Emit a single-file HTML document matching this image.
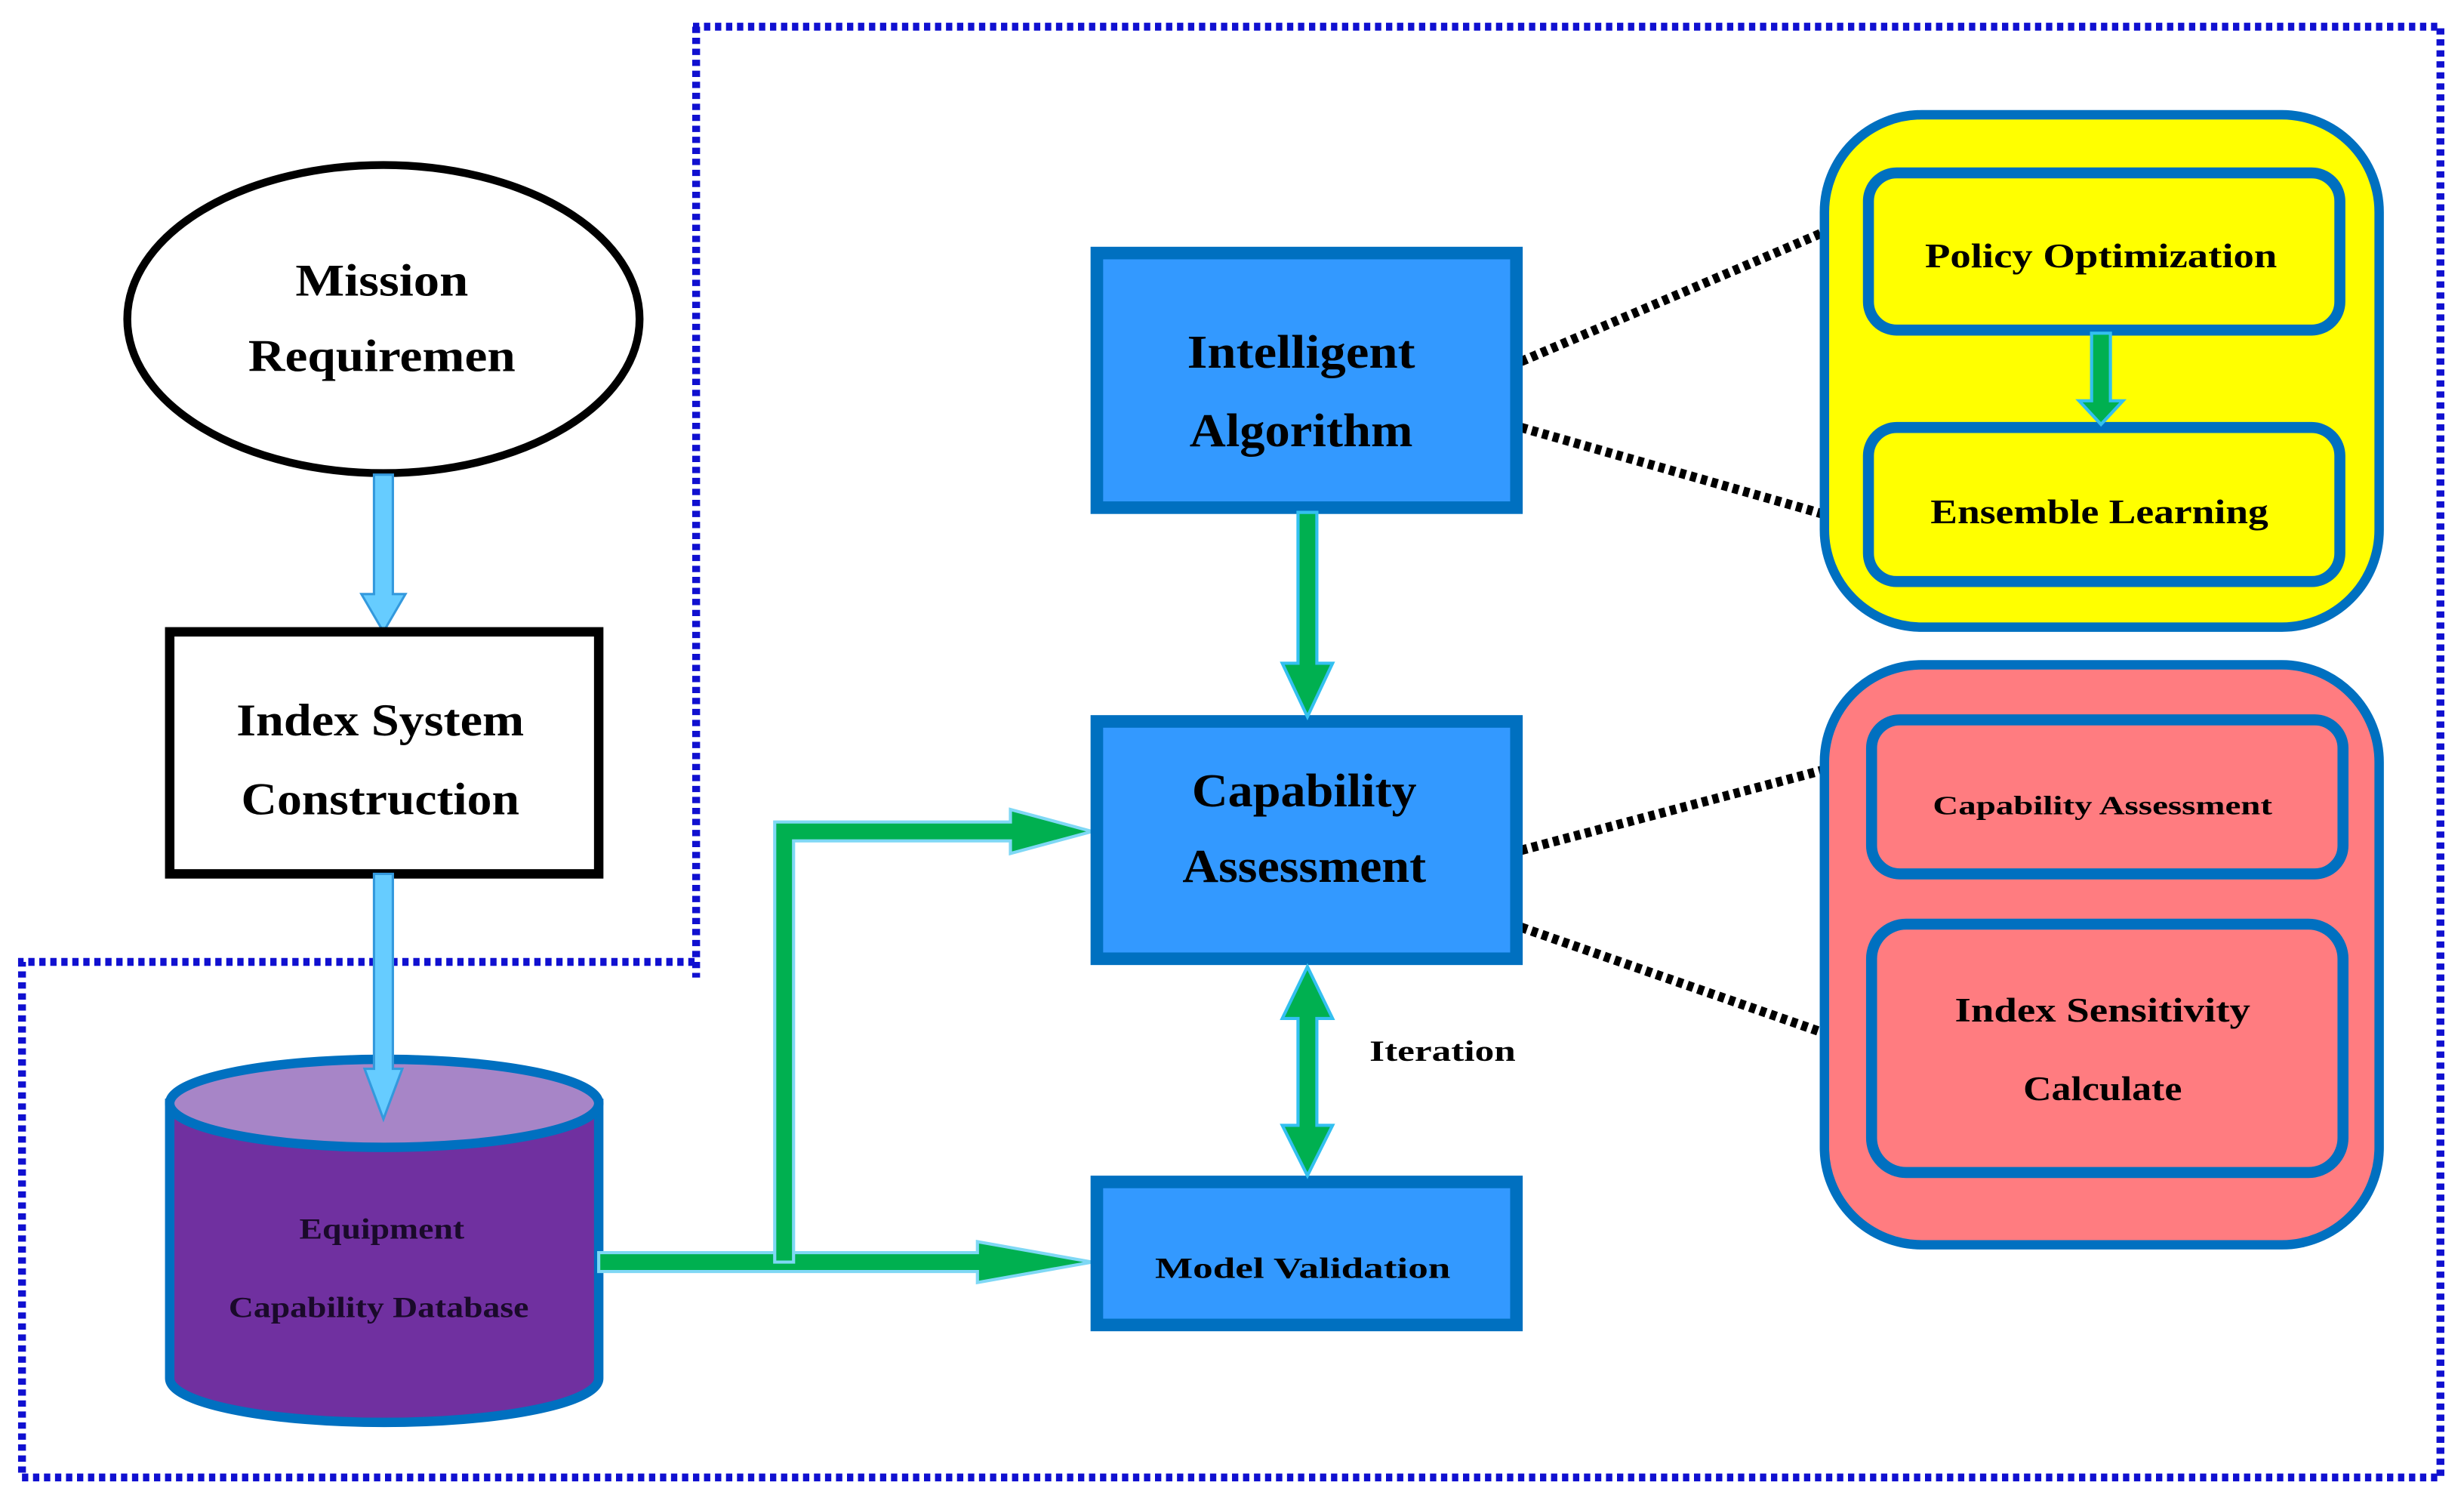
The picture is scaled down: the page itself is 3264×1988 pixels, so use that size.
<!DOCTYPE html>
<html><head><meta charset="utf-8"><style>
html,body{margin:0;padding:0;background:#fff;}
svg{display:block;}
text{font-family:"Liberation Serif",serif;fill:#000;text-anchor:middle;font-weight:bold;}
</style></head><body>
<svg width="3264" height="1988" viewBox="0 0 1568 955" preserveAspectRatio="none" xmlns="http://www.w3.org/2000/svg">
<g fill="none" stroke="#1010d0" stroke-width="5" stroke-dasharray="4 3">
<polyline points="441,17 1553,17 1553,940 14,940 14,612 443,612"/>
<line x1="443" y1="17" x2="443" y2="622"/>
</g>
<g stroke="#000" stroke-width="6" stroke-dasharray="4 3">
<line x1="968" y1="230" x2="1160" y2="148"/>
<line x1="968" y1="272" x2="1160" y2="327"/>
<line x1="968" y1="541" x2="1160" y2="490"/>
<line x1="968" y1="590" x2="1160" y2="657"/>
</g>
<ellipse cx="244" cy="203" rx="163" ry="98" fill="#fff" stroke="#000" stroke-width="5"/>
<text x="243" y="188" font-size="29" textLength="110" lengthAdjust="spacingAndGlyphs">Mission</text>
<text x="243" y="236" font-size="29" textLength="170" lengthAdjust="spacingAndGlyphs">Requiremen</text>
<g fill="#66ccff" stroke="#3399dd" stroke-width="1.5">
<polygon points="238,302 250,302 250,378 258,378 244,402 230,378 238,378"/>
</g>
<rect x="108" y="402" width="273" height="154" fill="#fff" stroke="#000" stroke-width="6"/>
<text x="242" y="468" font-size="29" textLength="183" lengthAdjust="spacingAndGlyphs">Index System</text>
<text x="242" y="518" font-size="29" textLength="177" lengthAdjust="spacingAndGlyphs">Construction</text>
<path d="M108,702 L108,877 A136.5,28 0 0 0 381,877 L381,702 Z" fill="#7030a0" stroke="#0070c0" stroke-width="6"/>
<ellipse cx="244.5" cy="702" rx="136.5" ry="28" fill="#a785c7" stroke="#0070c0" stroke-width="6"/>
<g fill="#66ccff" stroke="#3399dd" stroke-width="1.5">
<polygon points="238,556 250,556 250,680 256,680 244,712 232,680 238,680"/>
</g>
<text x="243" y="788" font-size="19" style="fill:#1a0a2a" textLength="105" lengthAdjust="spacingAndGlyphs">Equipment</text>
<text x="241" y="838" font-size="19" style="fill:#1a0a2a" textLength="191" lengthAdjust="spacingAndGlyphs">Capability Database</text>
<g fill="#00b050" stroke="#7fd8f5" stroke-width="2">
<polygon points="381,797 622,797 622,790 695,803 622,816 622,809 381,809"/>
<polygon points="493,803 493,523 643,523 643,515 695,529 643,543 643,535 505,535 505,803"/>
</g>
<g fill="#3399ff" stroke="#0070c0" stroke-width="8">
<rect x="698" y="161" width="267" height="162"/>
<rect x="698" y="459" width="267" height="151"/>
<rect x="698" y="752" width="267" height="91"/>
</g>
<text x="828" y="234" font-size="30" textLength="145" lengthAdjust="spacingAndGlyphs">Intelligent</text>
<text x="828" y="284" font-size="30" textLength="142" lengthAdjust="spacingAndGlyphs">Algorithm</text>
<text x="830" y="513" font-size="30" textLength="143" lengthAdjust="spacingAndGlyphs">Capability</text>
<text x="830" y="561" font-size="30" textLength="155" lengthAdjust="spacingAndGlyphs">Assessment</text>
<text x="829" y="813" font-size="19" textLength="188" lengthAdjust="spacingAndGlyphs">Model Validation</text>
<g fill="#00b050" stroke="#33c0f0" stroke-width="2">
<polygon points="826,326 838,326 838,422 848,422 832,456 816,422 826,422"/>
<polygon points="832,615 848,648 838,648 838,716 848,716 832,748 816,716 826,716 826,648 816,648"/>
</g>
<text x="918" y="675" font-size="19" textLength="93" lengthAdjust="spacingAndGlyphs">Iteration</text>
<rect x="1161" y="73" width="353" height="326" rx="62" fill="#ffff00" stroke="#0070c0" stroke-width="6"/>
<rect x="1189" y="110" width="300" height="100" rx="18" fill="#ffff00" stroke="#0070c0" stroke-width="7"/>
<rect x="1189" y="272" width="300" height="98" rx="18" fill="#ffff00" stroke="#0070c0" stroke-width="7"/>
<polygon points="1331,212 1343,212 1343,255 1351,255 1337,270 1323,255 1331,255" fill="#00b050" stroke="#33c0f0" stroke-width="2"/>
<text x="1337" y="170" font-size="22" textLength="224" lengthAdjust="spacingAndGlyphs">Policy Optimization</text>
<text x="1336" y="333" font-size="22" textLength="215" lengthAdjust="spacingAndGlyphs">Ensemble Learning</text>
<rect x="1161" y="423" width="353" height="369" rx="62" fill="#ff7c80" stroke="#0070c0" stroke-width="6"/>
<rect x="1191" y="458" width="300" height="98" rx="18" fill="#ff7c80" stroke="#0070c0" stroke-width="7"/>
<rect x="1191" y="588" width="300" height="158" rx="22" fill="#ff7c80" stroke="#0070c0" stroke-width="7"/>
<text x="1338" y="518" font-size="17" textLength="216" lengthAdjust="spacingAndGlyphs">Capability Assessment</text>
<text x="1338" y="650" font-size="22" textLength="188" lengthAdjust="spacingAndGlyphs">Index Sensitivity</text>
<text x="1338" y="700" font-size="22" textLength="101" lengthAdjust="spacingAndGlyphs">Calculate</text>
</svg>
</body></html>
